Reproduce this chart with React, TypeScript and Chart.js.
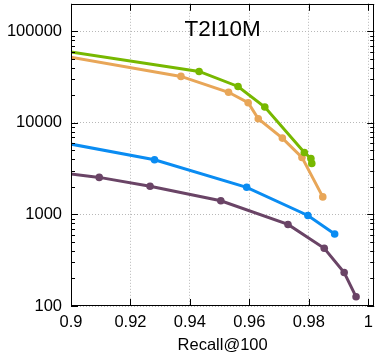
import { useEffect, useRef } from "react";
import { Chart, registerables } from "chart.js";

Chart.register(...registerables);

const chartTitle = "T2I10M";
const xAxisLabel = "Recall@100";
const xTickValues = [0.9, 0.92, 0.94, 0.96, 0.98, 1.0];
const yTickValues = [100, 1000, 10000, 100000];

const greenRecall = [0.89, 0.9431, 0.9562, 0.9652, 0.9785, 0.9807, 0.981];
const greenQps = [66700, 36500, 25000, 14900, 4750, 4090, 3610];

const orangeRecall = [0.89, 0.937, 0.953, 0.9596, 0.963, 0.9711, 0.9777, 0.9847];
const orangeQps = [59300, 32200, 21600, 16600, 11100, 6820, 4200, 1555];

const blueRecall = [0.89, 0.9281, 0.9591, 0.9797, 0.9887];
const blueQps = [6740, 3960, 1980, 975, 611];

const purpleRecall = [0.89, 0.9095, 0.9266, 0.9504, 0.973, 0.9852, 0.9919, 0.9959];
const purpleQps = [3030, 2540, 2030, 1410, 778, 427, 232, 126];

const FONT = "'Liberation Sans', Arial, Helvetica, sans-serif";

function pts(xs: number[], ys: number[]) {
  return xs.map((x, i) => ({ x, y: ys[i] }));
}

const framePlugin = {
  id: "frame",
  afterDatasetsDraw(chart: any) {
    const { ctx, chartArea } = chart;
    const { left, right, top, bottom } = chartArea;
    const xs = chart.scales.x;
    const ys = chart.scales.y;
    ctx.save();
    ctx.strokeStyle = "#000";
    ctx.lineWidth = 1;
    ctx.beginPath();
    xTickValues.forEach((v) => {
      const px = Math.round(xs.getPixelForValue(v)) + 0.5;
      ctx.moveTo(px, bottom);
      ctx.lineTo(px, bottom - 7);
      ctx.moveTo(px, top);
      ctx.lineTo(px, top + 7);
    });
    const yMax = ys.max;
    yTickValues.forEach((d) => {
      for (let k = 1; k <= 9; k++) {
        const v = d * k;
        if (v > yMax + 1e-9 || v < ys.min - 1e-9) continue;
        const len = k === 1 ? 7 : 4;
        const py = Math.round(ys.getPixelForValue(v)) + 0.5;
        ctx.moveTo(left, py);
        ctx.lineTo(left + len, py);
        ctx.moveTo(right, py);
        ctx.lineTo(right - len, py);
      }
    });
    ctx.stroke();
    ctx.strokeRect(Math.round(left) + 0.5, Math.round(top) + 0.5, Math.round(right - left) - 1, Math.round(bottom - top) - 1);
    ctx.fillStyle = "#000";
    ctx.font = `22.5px ${FONT}`;
    ctx.textAlign = "center";
    ctx.textBaseline = "middle";
    ctx.fillText(chartTitle, (left + right) / 2, top + 26);
    ctx.restore();
  },
};

export default function App() {
  const ref = useRef<HTMLCanvasElement | null>(null);
  useEffect(() => {
    document.body.style.margin = "0";
    const canvas = ref.current!;
    const mk = (label: string, xs: number[], ys: number[], color: string) => ({
      label,
      data: pts(xs, ys),
      borderColor: color,
      backgroundColor: color,
      borderWidth: 3,
      pointRadius: 3.8,
      pointHoverRadius: 3.8,
      pointBorderWidth: 0,
      tension: 0,
      clip: 0,
    });
    const chart = new Chart(canvas, {
      type: "line",
      data: {
        datasets: [
          mk("green", greenRecall, greenQps, "#77b800"),
          mk("orange", orangeRecall, orangeQps, "#e8a658"),
          mk("blue", blueRecall, blueQps, "#0a8cf2"),
          mk("purple", purpleRecall, purpleQps, "#6a4466"),
        ],
      },
      options: {
        animation: false,
        responsive: false,
        devicePixelRatio: 1,
        layout: { padding: { top: 3, right: 3, left: 0, bottom: 0 } },
        plugins: { legend: { display: false }, tooltip: { enabled: false }, title: { display: false } },
        scales: {
          x: {
            type: "linear",
            min: 0.9,
            max: 1.002,
            afterBuildTicks: (s: any) => {
              s.ticks = xTickValues.map((v) => ({ value: v }));
            },
            afterFit: (s: any) => {
              s.height = 49;
              s.paddingLeft = 0;
              s.paddingRight = 0;
            },
            ticks: {
              padding: 7,
              color: "#000",
              font: { family: FONT, size: 16.5 },
              callback: (v: any) => String(Number(Number(v).toFixed(2))),
              maxRotation: 0,
            },
            grid: { color: "#b8b8b8", lineWidth: 1, drawTicks: false },
            border: { display: false, dash: [1, 2] },
            title: {
              display: true,
              text: xAxisLabel,
              color: "#000",
              font: { family: FONT, size: 16.5 },
              padding: { top: 0, bottom: 0 },
            },
          },
          y: {
            type: "logarithmic",
            min: 100,
            max: 200000,
            afterBuildTicks: (s: any) => {
              s.ticks = yTickValues.map((v) => ({ value: v }));
            },
            afterFit: (s: any) => {
              s.width = 71;
              s.paddingTop = 0;
              s.paddingBottom = 0;
            },
            ticks: {
              padding: 9,
              color: "#000",
              font: { family: FONT, size: 16.5 },
              callback: (v: any) => String(v),
            },
            grid: { color: "#b8b8b8", lineWidth: 1, drawTicks: false },
            border: { display: false, dash: [1, 2] },
          },
        },
      },
      plugins: [framePlugin],
    });
    return () => chart.destroy();
  }, []);
  return (
    <div style={{ width: 378, height: 355 }}>
      <canvas ref={ref} width={378} height={355} style={{ display: "block" }} />
    </div>
  );
}
